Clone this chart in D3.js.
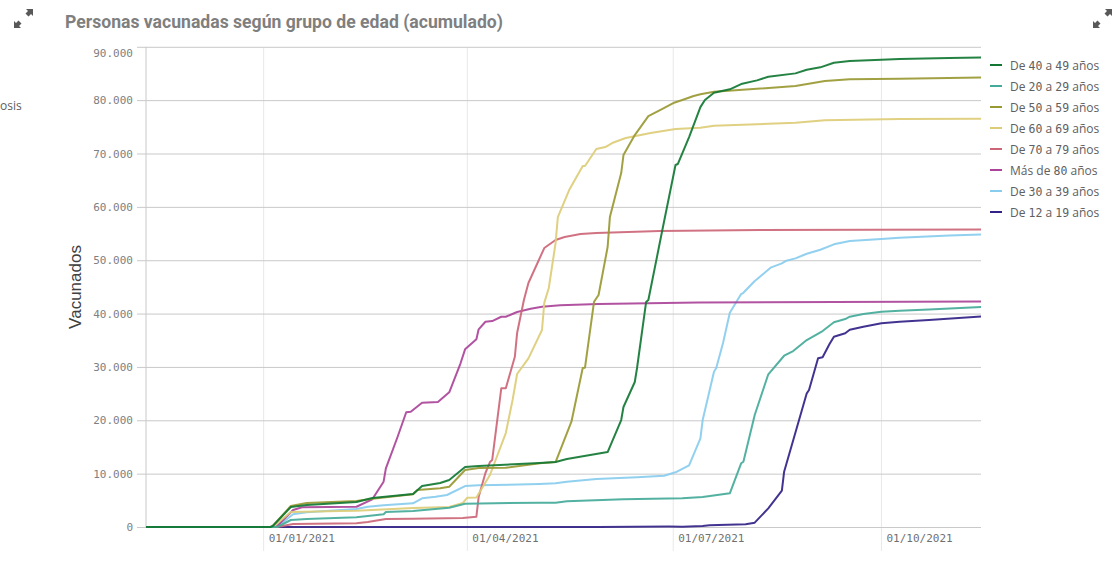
<!DOCTYPE html>
<html>
<head>
<meta charset="utf-8">
<script src="https://cdn.jsdelivr.net/npm/d3@7"></script>
<style>
    html, body { margin: 0; padding: 0; background: #fff; overflow: hidden; }
    text { font-family: "Open Sans", sans-serif; }
    .mono { font-family: "DejaVu Sans Mono", monospace; }
    .grid-y line { stroke: #c9c9c9; }
    .grid-x line { stroke: #e8e8e8; }
    .domain { display: none; }
</style>
</head>
<body>
<svg id="chart" width="1120" height="568"></svg>
<script>
// dias = dias desde 01/01/2021, vac = personas vacunadas
const dias40 = [-52, 3, 4, 12, 19, 41, 48, 66, 70, 78, 82, 89, 95, 122, 129, 134, 152, 158, 159, 164, 165, 169, 170, 176, 182, 183, 188, 193, 195, 199, 206, 211, 218, 223, 235, 240, 246, 252, 259, 273, 281, 303, 317];
const vac40 = [0, 0, 190, 3750, 4120, 4690, 5430, 6180, 7680, 8250, 8810, 11240, 11430, 11990, 12180, 12740, 14050, 20050, 22490, 27170, 29800, 42160, 42540, 55280, 67840, 68030, 73090, 78700, 80020, 81390, 82030, 83020, 83710, 84390, 85020, 85700, 86150, 87010, 87330, 87570, 87700, 87890, 87980];

const dias20 = [-52, 6, 12, 19, 41, 53, 54, 66, 82, 89, 122, 129, 134, 159, 185, 194, 206, 211, 212, 217, 223, 230, 234, 240, 247, 252, 257, 259, 265, 273, 281, 294, 317];
const vac20 = [0, 0, 1310, 1500, 1810, 2380, 2810, 3000, 3620, 4370, 4560, 4560, 4810, 5190, 5380, 5620, 6320, 11940, 12240, 20990, 28620, 32100, 32980, 35040, 36730, 38360, 38980, 39410, 39920, 40350, 40540, 40760, 41230];

const dias50 = [-52, 3, 4, 12, 19, 41, 48, 66, 68, 78, 82, 89, 95, 107, 122, 129, 136, 141, 142, 146, 148, 152, 153, 158, 159, 164, 170, 176, 181, 185, 190, 193, 199, 235, 248, 259, 281, 317];
const vac50 = [0, 0, 190, 3935, 4500, 4870, 5300, 6130, 6930, 7250, 7550, 10680, 11060, 11110, 11940, 12180, 19730, 29800, 29850, 42220, 43480, 52470, 58090, 66340, 69710, 73460, 77020, 78330, 79460, 80020, 80770, 81090, 81580, 82640, 83580, 83900, 84010, 84240];

const dias60 = [-52, 4, 12, 34, 41, 66, 82, 88, 90, 94, 100, 107, 110, 112, 117, 123, 124, 126, 129, 130, 135, 141, 142, 147, 151, 154, 160, 171, 182, 193, 199, 235, 248, 281, 317];
const vac60 = [0, 0, 2810, 3000, 3050, 3560, 3750, 4500, 5490, 5530, 9745, 17610, 23800, 28670, 31610, 36920, 42000, 44790, 53220, 58090, 63150, 67650, 67650, 70840, 71210, 71960, 72900, 73840, 74590, 74830, 75210, 75770, 76220, 76460, 76500];

const dias70 = [-52, 6, 13, 41, 46, 54, 66, 88, 94, 95, 98, 100, 101, 105, 107, 111, 112, 115, 117, 124, 129, 133, 140, 147, 175, 219, 317];
const vac70 = [0, 0, 560, 690, 940, 1500, 1560, 1690, 1930, 5620, 10120, 12180, 12560, 25990, 25990, 31910, 36350, 42540, 45730, 52280, 53780, 54350, 54900, 55100, 55470, 55660, 55750];

const dias80 = [-52, 5, 6, 13, 17, 41, 48, 53, 54, 59, 63, 65, 70, 77, 82, 87, 89, 94, 95, 98, 101, 105, 107, 112, 118, 123, 131, 148, 192, 317];
const vac80 = [0, 0, 190, 3190, 3690, 3800, 5190, 8490, 11000, 16680, 21500, 21600, 23300, 23425, 25240, 30680, 33300, 35170, 37050, 38470, 38600, 39410, 39410, 40290, 40910, 41290, 41550, 41790, 42070, 42260];

const dias30 = [-52, 5, 6, 13, 19, 41, 46, 53, 66, 70, 76, 81, 89, 95, 122, 129, 134, 147, 165, 177, 182, 188, 193, 194, 199, 200, 203, 206, 211, 212, 217, 218, 224, 229, 231, 235, 240, 246, 252, 259, 273, 281, 303, 317];
const vac30 = [0, 0, 60, 2380, 2750, 3370, 3800, 4070, 4440, 5380, 5680, 6000, 7680, 7810, 8060, 8190, 8490, 8990, 9310, 9610, 10250, 11560, 16620, 20050, 29100, 29800, 34480, 40160, 43660, 43900, 46100, 46420, 48600, 49420, 49910, 50350, 51220, 51970, 52980, 53600, 53970, 54220, 54630, 54820];

const dias12 = [-52, 148, 179, 185, 194, 197, 213, 217, 223, 229, 230, 240, 241, 245, 247, 250, 252, 257, 259, 265, 273, 281, 294, 317];
const vac12 = [0, 0, 90, 60, 190, 320, 500, 810, 3500, 6800, 10360, 25050, 25670, 31610, 31800, 34240, 35660, 36300, 36970, 37540, 38170, 38470, 38790, 39450];

const yTicks = [0, 10000, 20000, 30000, 40000, 50000, 60000, 70000, 80000, 90000];
const xTicks = ['2021-01-01', '2021-04-01', '2021-07-01', '2021-10-01'];

// mismo orden que la leyenda
const series = [
    { name: 'De 40 a 49 años', color: '#117733', dias: dias40, vac: vac40 },
    { name: 'De 20 a 29 años', color: '#44AA99', dias: dias20, vac: vac20 },
    { name: 'De 50 a 59 años', color: '#999933', dias: dias50, vac: vac50 },
    { name: 'De 60 a 69 años', color: '#DDCC77', dias: dias60, vac: vac60 },
    { name: 'De 70 a 79 años', color: '#CC6677', dias: dias70, vac: vac70 },
    { name: 'Más de 80 años', color: '#AA4499', dias: dias80, vac: vac80 },
    { name: 'De 30 a 39 años', color: '#88CCEE', dias: dias30, vac: vac30 },
    { name: 'De 12 a 19 años', color: '#332288', dias: dias12, vac: vac12 }
];

const parseDate = d3.timeParse('%Y-%m-%d');
const dayZero = parseDate('2021-01-01');
const esFormat = d3.formatLocale({ decimal: ',', thousands: '.', grouping: [3], currency: ['', '€'] }).format(',d');

const svg = d3.select('#chart');

const xScale = d3.scaleTime()
    .domain([parseDate('2020-11-10'), parseDate('2021-11-14')])
    .range([146, 981]);
const yScale = d3.scaleLinear().domain([0, 90000]).range([527, 46.8]);

//Grid + ejes
const gridX = svg.append('g').attr('class', 'grid-x');
gridX.selectAll('line').data(xTicks).join('line')
    .attr('x1', d => xScale(parseDate(d))).attr('x2', d => xScale(parseDate(d)))
    .attr('y1', 48).attr('y2', 551);

const yAxis = d3.axisLeft(yScale).tickValues(yTicks).tickFormat(esFormat)
    .tickSizeInner(-(981 - 146)).tickSizeOuter(0);
const yAxisDraw = svg.append('g').attr('class', 'grid-y')
    .attr('transform', 'translate(146,0)').call(yAxis);
yAxisDraw.selectAll('text').remove();
// pequena marca a la izquierda del eje
yAxisDraw.selectAll('.tick').append('line').attr('x1', -9).attr('x2', 0);

svg.append('line').attr('x1', 146).attr('x2', 146).attr('y1', 46.8).attr('y2', 527)
    .attr('stroke', '#c9c9c9');

// el 90.000 va por debajo de su linea, el resto centrado
svg.append('g').selectAll('text').data(yTicks).join('text')
    .attr('class', 'mono')
    .attr('x', 133).attr('y', d => yScale(d) + (d === 90000 ? 10.5 : 4))
    .attr('text-anchor', 'end').attr('font-size', 11).attr('fill', '#808080')
    .text(d => esFormat(d));

svg.append('g').selectAll('text').data(xTicks).join('text')
    .attr('class', 'mono')
    .attr('x', d => xScale(parseDate(d)) + 5).attr('y', 542)
    .attr('font-size', 11).attr('fill', '#707070')
    .text(d => d3.timeFormat('%d/%m/%Y')(parseDate(d)));

//Lineas: se dibujan al reves para que la primera quede encima
const line = d3.line()
    .x(d => xScale(d3.timeDay.offset(dayZero, d[0])))
    .y(d => yScale(d[1]));

svg.append('g').selectAll('path').data(series.slice().reverse()).join('path')
    .attr('fill', 'none')
    .attr('stroke', d => d.color)
    .attr('stroke-width', 2)
    .attr('stroke-opacity', 0.92)
    .attr('stroke-linejoin', 'round')
    .attr('d', d => line(d.dias.map((day, i) => [day, d.vac[i]])));

//Leyenda: los digitos van en mono, como en el original
const legend = svg.append('g').selectAll('g').data(series).join('g')
    .attr('transform', (d, i) => `translate(990,${65 + i * 21})`);
legend.append('line').attr('x1', 0).attr('x2', 12)
    .attr('stroke', d => d.color).attr('stroke-width', 2);
const legendText = legend.append('text').attr('x', 20).attr('y', 4.5)
    .attr('font-size', 12).attr('fill', '#606060');
legendText.selectAll('tspan')
    .data(d => d.name.split(/(\d+)/).filter(s => s !== ''))
    .join('tspan')
    .attr('class', s => /\d/.test(s) ? 'mono' : null)
    .attr('font-size', s => /\d/.test(s) ? 11.5 : 12)
    .text(s => s);

//Textos
svg.append('text').attr('x', 65).attr('y', 28)
    .attr('font-size', 17.6).attr('font-weight', 700).attr('fill', '#7f7f7f')
    .style('font-family', 'Roboto')
    .text('Personas vacunadas según grupo de edad (acumulado)');

svg.append('text')
    .attr('transform', 'translate(81,287) rotate(-90)')
    .attr('text-anchor', 'middle')
    .attr('font-size', 17).attr('fill', '#404040')
    .style('font-family', '"Liberation Sans"')
    .text('Vacunados');

svg.append('text').attr('x', 0).attr('y', 110)
    .attr('font-size', 12).attr('fill', '#606060')
    .text('osis');

//Iconos de expandir
const arrow = 'M0 0H7V7L5 5L2.5 7.5L-.5 4.5L2 2Z';
const icons = [[26, 9, 0], [1105, 9, 0], [21, 28, 180], [1100, 28, 180]];
svg.append('g').selectAll('path').data(icons).join('path')
    .attr('d', arrow)
    .attr('fill', '#595959')
    .attr('transform', d => `translate(${d[0]},${d[1]}) rotate(${d[2]})`);
</script>
</body>
</html>
